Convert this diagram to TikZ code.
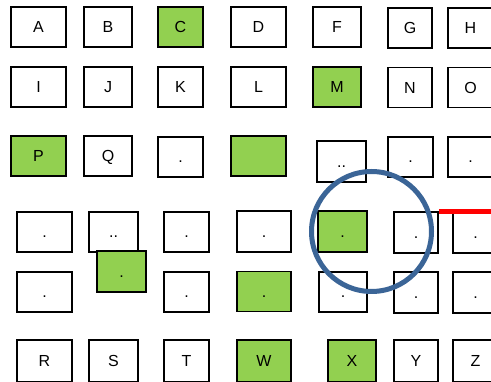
\documentclass[tikz,border=0pt]{standalone}
\usepackage{fontspec}
\setmainfont{Liberation Sans}
\usepackage{tikz}
\definecolor{cellgreen}{HTML}{92D050}
\definecolor{ringblue}{HTML}{3B6597}
\definecolor{markred}{HTML}{FF0000}
\tikzset{
  cell/.style={draw=black,line width=1.8pt,fill=white,inner sep=0pt,
    text height=11.5pt,text depth=0pt,font=\fontsize{16}{16}\selectfont},
  greencell/.style={cell,fill=cellgreen},
  ring/.style={circle,draw=ringblue,line width=5pt,minimum size=120pt,inner sep=0pt},
}
\begin{document}
\begin{tikzpicture}[x=1pt,y=-1pt]
  \fill[white] (0,0) rectangle (491,382);
  \useasboundingbox (0,0) rectangle (491,382);
  % white cells: name/x/y/width/height/text
  \foreach \n/\cx/\cy/\w/\h/\t in {
      A/38.5/27/55/40/A, B/108/27/48/40/B, D/258.5/27/55/40/D, F/337/27/48/40/F,
      G/410/28/44/40/G, H/470.5/28/45/40/H,
      I/38.5/87/55/40/I, J/108/87/48/40/J, K/180.5/87/45/40/K, L/258.5/87/55/40/L,
      N/410/87.5/44/40/N, O/470.5/87.5/45/40/O,
      Q/108/156/48/40/Q, r3c3/180.5/157/45/40/., r3c5/341.5/161.5/49/41/..,
      r3c6/410.5/157/45/40/., r3c7/470.5/157/45/40/.,
      r4c1/44.5/232/55/40/., r4c2/113.5/232/49/40/.., r4c3/186.5/232/45/40/.,
      r4c4/264/231.5/54/41/., r4c6/416/232.5/44/41/., r4c7/475.5/232.5/45/41/.,
      r5c1/44.5/292/55/40/., r5c3/186.5/292/45/40/., r5c5/343/292/48/40/.,
      r5c6/416/292.5/44/41/., r5c7/475.5/292.5/45/41/.,
      R/44.5/361/55/42/R, S/113.5/361/49/42/S, T/186.5/361/45/42/T,
      Y/416/361/44/42/Y, Z/475.5/361/45/42/Z}
    \node[cell,minimum width=\w pt,minimum height=\h pt] (\n) at (\cx,\cy) {\t};
  % green cells
  \foreach \n/\cx/\cy/\w/\h/\t in {
      C/180.5/27/45/40/C, M/337/87/48/40/M, P/38.5/156/55/40/P, r3c4/258.5/156/55/40/{},
      r4c5/342.5/231.5/49/41/., drop/121.5/271.5/49/41/., r5c4/264/291.5/54/40/.,
      W/264/361/54/42/W, X/352/361/48/42/X}
    \node[greencell,minimum width=\w pt,minimum height=\h pt] (\n) at (\cx,\cy) {\t};
  \coordinate (redend) at (495,0);
  \draw[markred,line width=5pt] (r4c6.north east) -- (r4c6.north east -| redend);
  \node[ring] (focus) at (371.5,231.5) {};
\end{tikzpicture}
\end{document}
